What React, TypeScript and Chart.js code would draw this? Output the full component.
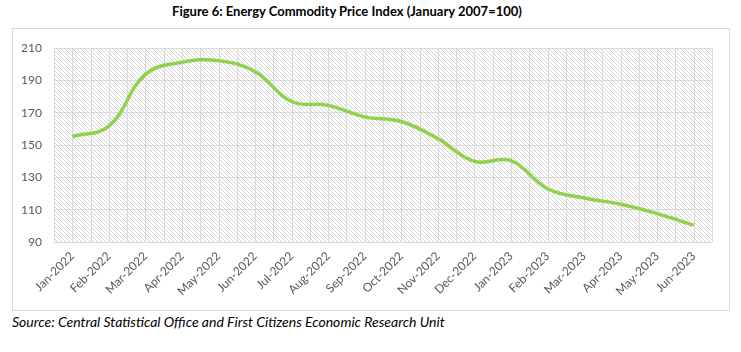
import React, { useEffect, useRef } from "react";
import { Chart, registerables } from "chart.js";

Chart.register(...registerables);

const categories = [
  "Jan-2022", "Feb-2022", "Mar-2022", "Apr-2022", "May-2022", "Jun-2022",
  "Jul-2022", "Aug-2022", "Sep-2022", "Oct-2022", "Nov-2022", "Dec-2022",
  "Jan-2023", "Feb-2023", "Mar-2023", "Apr-2023", "May-2023", "Jun-2023",
];
const indexValues = [
  155.4, 161.7, 193.8, 201.3, 202.3, 195.5,
  177, 174.6, 167.5, 164.6, 154, 139.9,
  140.4, 123, 117.2, 113.4, 107.6, 100.4,
];
const yMin = 90;
const yMax = 210;
const yStep = 20;

const FONT = "Lato, 'Open Sans', sans-serif";

function makeHatch(ctx: CanvasRenderingContext2D) {
  const c = document.createElement("canvas");
  c.width = 4;
  c.height = 4;
  const p = c.getContext("2d")!;
  p.fillStyle = "#ffffff";
  p.fillRect(0, 0, 4, 4);
  p.fillStyle = "#d6d6d6";
  for (let i = 0; i < 4; i++) p.fillRect(i, i, 1, 1);
  return ctx.createPattern(c, "repeat");
}

const plotBg = {
  id: "plotBg",
  beforeDraw(chart: any) {
    const { ctx, chartArea, scales } = chart;
    const { left, right, top, bottom } = chartArea;
    ctx.save();
    const pat = makeHatch(ctx);
    if (pat) {
      ctx.fillStyle = pat;
      ctx.fillRect(left, top, right - left, bottom - top);
    }
    const x = scales.x;
    const n = categories.length;
    const half = (x.getPixelForValue(1) - x.getPixelForValue(0)) / 2;
    ctx.strokeStyle = "#d9d9d9";
    ctx.lineWidth = 1;
    ctx.beginPath();
    for (let i = 0; i < n; i++) {
      const c = x.getPixelForValue(i);
      const xs = [c - half, c];
      if (i === n - 1) xs.push(c + half);
      for (const px of xs) {
        const xx = Math.round(px) + 0.5;
        ctx.moveTo(xx, top);
        ctx.lineTo(xx, bottom);
      }
    }
    ctx.stroke();
    ctx.restore();
  },
};

export default function App() {
  const ref = useRef<HTMLCanvasElement>(null);
  useEffect(() => {
    const chart = new Chart(ref.current!, {
      type: "line",
      data: {
        labels: categories,
        datasets: [
          {
            data: indexValues,
            borderColor: "#92D050",
            borderWidth: 3.5,
            pointRadius: 0,
            tension: 0.4,
            fill: false,
          },
        ],
      },
      options: {
        responsive: false,
        animation: false,
        layout: { padding: { left: 0, top: 6, right: 17, bottom: 0 } },
        plugins: {
          legend: { display: false },
          tooltip: { enabled: false },
        },
        scales: {
          x: {
            offset: true,
            grid: { display: false, drawTicks: false },
            border: { display: false },
            ticks: {
              color: "#595959",
              font: { family: FONT, size: 12 },
              maxRotation: 45,
              minRotation: 45,
              padding: 7,
              autoSkip: false,
            },
            afterFit(scale: any) {
              scale.height = 68;
            },
          },
          y: {
            min: yMin,
            max: yMax,
            grid: { color: "#d9d9d9", drawTicks: false },
            border: { display: false },
            ticks: {
              stepSize: yStep,
              color: "#595959",
              font: { family: FONT, size: 12 },
              padding: 12,
            },
            afterFit(scale: any) {
              scale.width = 41;
            },
          },
        },
      },
      plugins: [plotBg],
    });
    return () => chart.destroy();
  }, []);

  return (
    <div style={{ position: "fixed", left: 0, top: 0, width: 741, height: 352, background: "#fff" }}>
      <div
        style={{
          position: "absolute",
          left: 0,
          width: 694,
          top: 2,
          textAlign: "center",
          fontFamily: FONT,
          fontWeight: 700,
          fontSize: 13,
          color: "#000",
          lineHeight: "18px",
          whiteSpace: "nowrap",
        }}
      >
        Figure 6: Energy Commodity Price Index (January 2007=100)
      </div>
      <div
        style={{
          position: "absolute",
          left: 12,
          top: 28,
          width: 716,
          height: 281,
          border: "1px solid #d9d9d9",
        }}
      >
        <canvas ref={ref} width={716} height={281} style={{ display: "block" }} />
      </div>
      <div
        style={{
          position: "absolute",
          left: 12,
          top: 312,
          fontFamily: FONT,
          fontStyle: "italic",
          fontSize: 14,
          color: "#000",
          lineHeight: "20px",
          whiteSpace: "nowrap",
        }}
      >
        Source: Central Statistical Office and First Citizens Economic Research Unit
      </div>
    </div>
  );
}
